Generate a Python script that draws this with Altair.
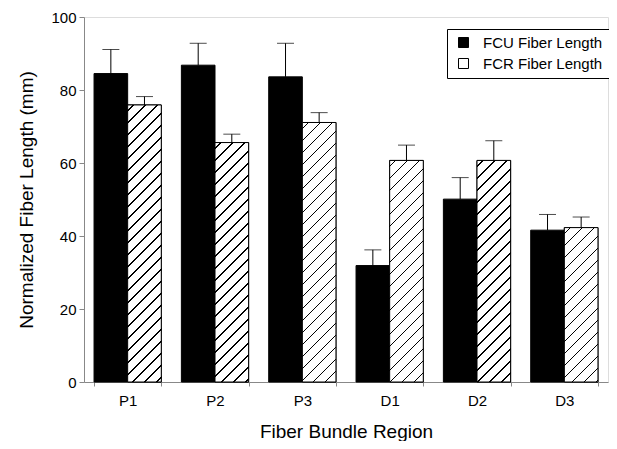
import altair as alt
import pandas as pd

regions = ["P1", "P2", "P3", "D1", "D2", "D3"]
series = ["FCU Fiber Length", "FCR Fiber Length"]
fcu_mean = [84.5, 86.8, 83.6, 31.9, 50.1, 41.6]
fcu_err = [6.6, 6.0, 9.2, 4.3, 5.9, 4.3]
fcr_mean = [75.9, 65.6, 71.1, 60.7, 60.7, 42.3]
fcr_err = [2.3, 2.3, 2.7, 4.2, 5.4, 2.9]
y_ticks = [0, 20, 40, 60, 80, 100]

W, H = 524, 365
PAD_IN, PAD_OUT = 0.23, 0.115

rows = []
for r, m, e in zip(regions, fcu_mean, fcu_err):
    rows.append({"Region": r, "Series": series[0], "mean": m, "top": m + e})
for r, m, e in zip(regions, fcr_mean, fcr_err):
    rows.append({"Region": r, "Series": series[1], "mean": m, "top": m + e})
df = pd.DataFrame(rows)

FONT = "Liberation Sans"

x_enc = alt.X(
    "Region:N",
    sort=regions,
    scale=alt.Scale(domain=regions, paddingInner=PAD_IN, paddingOuter=PAD_OUT),
    axis=alt.Axis(
        title="Fiber Bundle Region",
        labelAngle=0,
        tickBand="extent",
        tickSize=4,
        labelPadding=7,
        titlePadding=14,
        labelFontSize=15,
        titleFontSize=19,
        titleFontWeight="normal",
    ),
)
xo_enc = alt.XOffset(
    "Series:N",
    sort=series,
    scale=alt.Scale(domain=series, paddingInner=0, paddingOuter=0),
)
y_enc = alt.Y(
    "mean:Q",
    scale=alt.Scale(domain=[0, 100], nice=False),
    axis=alt.Axis(
        values=y_ticks,
        title="Normalized Fiber Length (mm)",
        grid=False,
        tickSize=5,
        labelPadding=3,
        titlePadding=14,
        labelFontSize=15,
        titleFontSize=19,
        titleFontWeight="normal",
    ),
)

bars = alt.Chart(df).mark_bar(stroke="black", strokeWidth=1).encode(
    x=x_enc,
    xOffset=xo_enc,
    y=y_enc,
    fill=alt.Fill(
        "Series:N",
        sort=series,
        scale=alt.Scale(domain=series, range=["black", "white"]),
        legend=alt.Legend(
            title=None,
            orient="none",
            legendX=363,
            legendY=12,
            strokeColor="black",
            fillColor="white",
            padding=6,
            symbolOffset=3,
            symbolType="square",
            symbolSize=100,
            symbolStrokeColor="black",
            symbolStrokeWidth=1,
            labelFontSize=15,
            labelOffset=12,
            rowPadding=5,
        ),
    ),
)

# hatched fill for FCR bars: per-bar diagonal stripe gradient sized to the bar
step = W / (len(regions) - PAD_IN + 2 * PAD_OUT)
bw = step * (1 - PAD_IN) / 2
period = 12.0
thick = 1.6

hatch_layers = []
for r, m in zip(regions, fcr_mean):
    h = m * H / 100.0
    R = bw + h
    a = R / (bw * bw + h * h)
    stops = [{"offset": 0, "color": "white"}]
    s = period / 2
    while s + thick / 2 < R:
        o1 = (s - thick / 2) / R
        o2 = (s + thick / 2) / R
        stops += [
            {"offset": o1, "color": "white"},
            {"offset": o1, "color": "black"},
            {"offset": o2, "color": "black"},
            {"offset": o2, "color": "white"},
        ]
        s += period
    stops.append({"offset": 1, "color": "white"})
    grad = {
        "gradient": "linear",
        "x1": 0, "y1": 0,
        "x2": a * bw, "y2": a * h,
        "stops": stops,
    }
    layer = (
        alt.Chart(df)
        .transform_filter((alt.datum.Region == r) & (alt.datum.Series == series[1]))
        .mark_bar(fill=grad, stroke="black", strokeWidth=1)
        .encode(x=x_enc, xOffset=xo_enc, y=y_enc)
    )
    hatch_layers.append(layer)

err = alt.Chart(df).mark_rule(color="black", strokeWidth=1).encode(
    x=x_enc, xOffset=xo_enc, y=y_enc, y2="top:Q"
)
caps = alt.Chart(df).mark_tick(
    color="black", orient="horizontal", size=17, thickness=1
).encode(x=x_enc, xOffset=xo_enc, y=alt.Y("top:Q"))

chart = (
    alt.layer(err, caps, bars, *hatch_layers)
    .properties(
        width=W,
        height=H,
        autosize=alt.AutoSizeParams(type="none"),
        padding={"left": 76, "top": 9, "right": 1, "bottom": 59},
    )
    .configure_view(stroke=None)
    .configure_axis(
        labelFont=FONT,
        titleFont=FONT,
        labelColor="black",
        titleColor="black",
        domainColor="black",
        tickColor="black",
        domainWidth=1,
        tickWidth=1,
    )
    .configure_legend(labelFont=FONT, labelColor="black")
    .configure(background="white")
)

chart.save("out.html", embed_options={"renderer": "svg", "actions": False})
